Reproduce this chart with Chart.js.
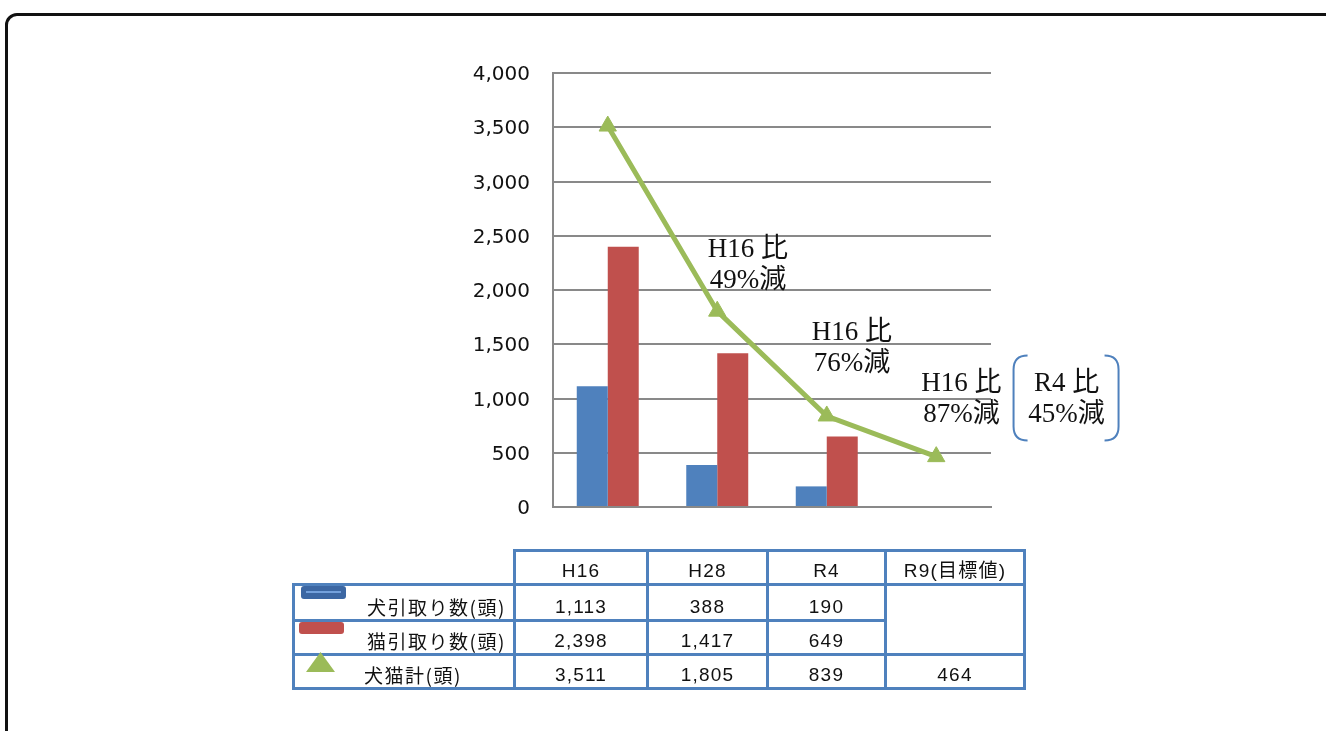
<!DOCTYPE html>
<html lang="ja">
<head>
<meta charset="utf-8">
<title>犬猫引取り数</title>
<script src="https://cdn.jsdelivr.net/npm/chart.js@4.4.1/dist/chart.umd.min.js"></script>
<style>
  html, body { margin: 0; padding: 0; background: #fff; width: 1326px; height: 731px; overflow: hidden; }
  .frame { position: absolute; left: 5px; top: 13px; width: 1400px; height: 800px; border: 3px solid #111; border-radius: 12px; box-sizing: border-box; }
  #chart { position: absolute; left: 0; top: 0; }
  table.vals { position: absolute; left: 292px; top: 549px; border-collapse: collapse; table-layout: fixed;
    font-family: "Liberation Sans", "Noto Sans CJK JP", sans-serif; font-size: 19px; color: #111; }
  table.vals td { border: 3px solid #4f81bd; padding: 0 0 1px 0; text-align: center; vertical-align: bottom;
    line-height: 22px; letter-spacing: 1.2px; box-sizing: border-box; }
  table.vals td.corner { border-top: none; border-left: none; }
  table.vals td.lab { text-align: left; padding-left: 72px; font-family: "Noto Sans CJK JP", sans-serif; letter-spacing: 1.5px; }
  .mark { position: absolute; }
  .mark.dog { left: 301px; top: 586px; width: 45px; height: 13px; background: #3c67a3; border-radius: 3px; }
  .mark.dog::after { content: ""; position: absolute; left: 5px; right: 5px; top: 5px; height: 2px; background: #74a1dc; }
  .mark.cat { left: 299px; top: 622px; width: 45px; height: 12px; background: #c0504d; border-radius: 3px; }
  .mark.total { left: 306px; top: 652px; width: 29px; height: 20px; background: #9bbb59; clip-path: polygon(50% 0, 100% 100%, 0 100%); }
</style>
</head>
<body>
<div class="frame"></div>
<canvas id="chart" width="1326" height="731"></canvas>
<table class="vals" id="vals"></table>
<div class="mark dog"></div>
<div class="mark cat"></div>
<div class="mark total"></div>
<script>
// 値は図から読み取り
const categories = ['H16', 'H28', 'R4', 'R9(目標値)'];
const dogValues = [1113, 388, 190, null];
const catValues = [2398, 1417, 649, null];
const totalValues = [3511, 1805, 839, 464];
const seriesNames = ['犬引取り数(頭)', '猫引取り数(頭)', '犬猫計(頭)'];
const noteLines = [['H16 比', '49%減'], ['H16 比', '76%減'], ['H16 比', '87%減'], ['R4 比', '45%減']];

// 表を作る
const fmt = v => v === null ? '' : v.toLocaleString('en-US');
const colW = [221, 133, 120, 118, 139];
const rowH = [34, 36, 34, 34];
const table = document.getElementById('vals');
let html = '<colgroup>' + colW.map(w => `<col style="width:${w}px">`).join('') + '</colgroup>';
html += `<tr style="height:${rowH[0]}px"><td class="corner"></td>` + categories.map(c => `<td>${c}</td>`).join('') + '</tr>';
html += `<tr style="height:${rowH[1]}px"><td class="lab">${seriesNames[0]}</td>` +
  dogValues.slice(0, 3).map(v => `<td>${fmt(v)}</td>`).join('') + '<td rowspan="2"></td></tr>';
html += `<tr style="height:${rowH[2]}px"><td class="lab">${seriesNames[1]}</td>` +
  catValues.slice(0, 3).map(v => `<td>${fmt(v)}</td>`).join('') + '</tr>';
html += `<tr style="height:${rowH[3]}px"><td class="lab" style="padding-left:69px">${seriesNames[2]}</td>` +
  totalValues.map(v => `<td>${fmt(v)}</td>`).join('') + '</tr>';
table.innerHTML = html;

// 注記（H16比など）
const notesPlugin = {
  id: 'notes',
  afterDatasetsDraw(chart) {
    const { ctx, scales: { x, y } } = chart;
    const spots = [[1.28, 2365], [2.23, 1605], [3.23, 1130], [4.19, 1130]];
    ctx.save();
    ctx.font = '27px "Liberation Serif", "Noto Sans CJK JP", serif';
    ctx.fillStyle = '#111';
    ctx.textAlign = 'center';
    ctx.textBaseline = 'middle';
    noteLines.forEach((lines, k) => {
      const px = x.getPixelForValue(spots[k][0]);
      const py = y.getPixelForValue(spots[k][1]);
      lines.forEach((t, j) => ctx.fillText(t, px, py + j * 31));
    });
    // R4比 のかっこ
    const bx = x.getPixelForValue(spots[3][0]);
    const mid = y.getPixelForValue(spots[3][1]) + 13;
    const top = mid - 42, bottom = mid + 43;
    const l = bx - 53, r = bx + 52;
    ctx.strokeStyle = '#4f81bd';
    ctx.lineWidth = 2;
    ctx.beginPath();
    ctx.moveTo(l + 14, top);
    ctx.quadraticCurveTo(l, top, l, top + 14);
    ctx.lineTo(l, bottom - 14);
    ctx.quadraticCurveTo(l, bottom, l + 14, bottom);
    ctx.moveTo(r - 14, top);
    ctx.quadraticCurveTo(r, top, r, top + 14);
    ctx.lineTo(r, bottom - 14);
    ctx.quadraticCurveTo(r, bottom, r - 14, bottom);
    ctx.stroke();
    ctx.restore();
  }
};

const ctx = document.getElementById('chart').getContext('2d');
new Chart(ctx, {
  data: {
    labels: categories,
    datasets: [
      {
        type: 'line',
        label: seriesNames[2],
        data: totalValues,
        borderColor: '#9bbb59',
        backgroundColor: '#9bbb59',
        borderWidth: 5,
        pointStyle: 'triangle',
        pointRadius: 10,
        pointBorderWidth: 1,
        order: 0
      },
      {
        type: 'bar',
        label: seriesNames[0],
        data: dogValues,
        backgroundColor: '#4f81bd',
        barPercentage: 1,
        categoryPercentage: 0.566,
        order: 1
      },
      {
        type: 'bar',
        label: seriesNames[1],
        data: catValues,
        backgroundColor: '#c0504d',
        barPercentage: 1,
        categoryPercentage: 0.566,
        order: 1
      }
    ]
  },
  options: {
    responsive: false,
    devicePixelRatio: 1,
    animation: false,
    layout: { padding: { left: 0, right: 335, top: 73, bottom: 224 } },
    plugins: { legend: { display: false }, tooltip: { enabled: false } },
    scales: {
      x: {
        ticks: { display: false },
        grid: { display: false },
        border: { display: true, color: '#898989', width: 2 },
        afterFit: s => { s.height = 0; }
      },
      y: {
        min: 0,
        max: 4000,
        ticks: {
          stepSize: 500,
          padding: 23,
          labelOffset: 2,
          color: '#111',
          font: { family: '"DejaVu Sans", sans-serif', size: 20 },
          callback: v => v.toLocaleString('en-US')
        },
        grid: { color: '#898989', lineWidth: 2, drawTicks: false },
        border: { color: '#898989', width: 2 },
        afterFit: s => { s.width = 553; }
      }
    }
  },
  plugins: [notesPlugin]
});
</script>
</body>
</html>
